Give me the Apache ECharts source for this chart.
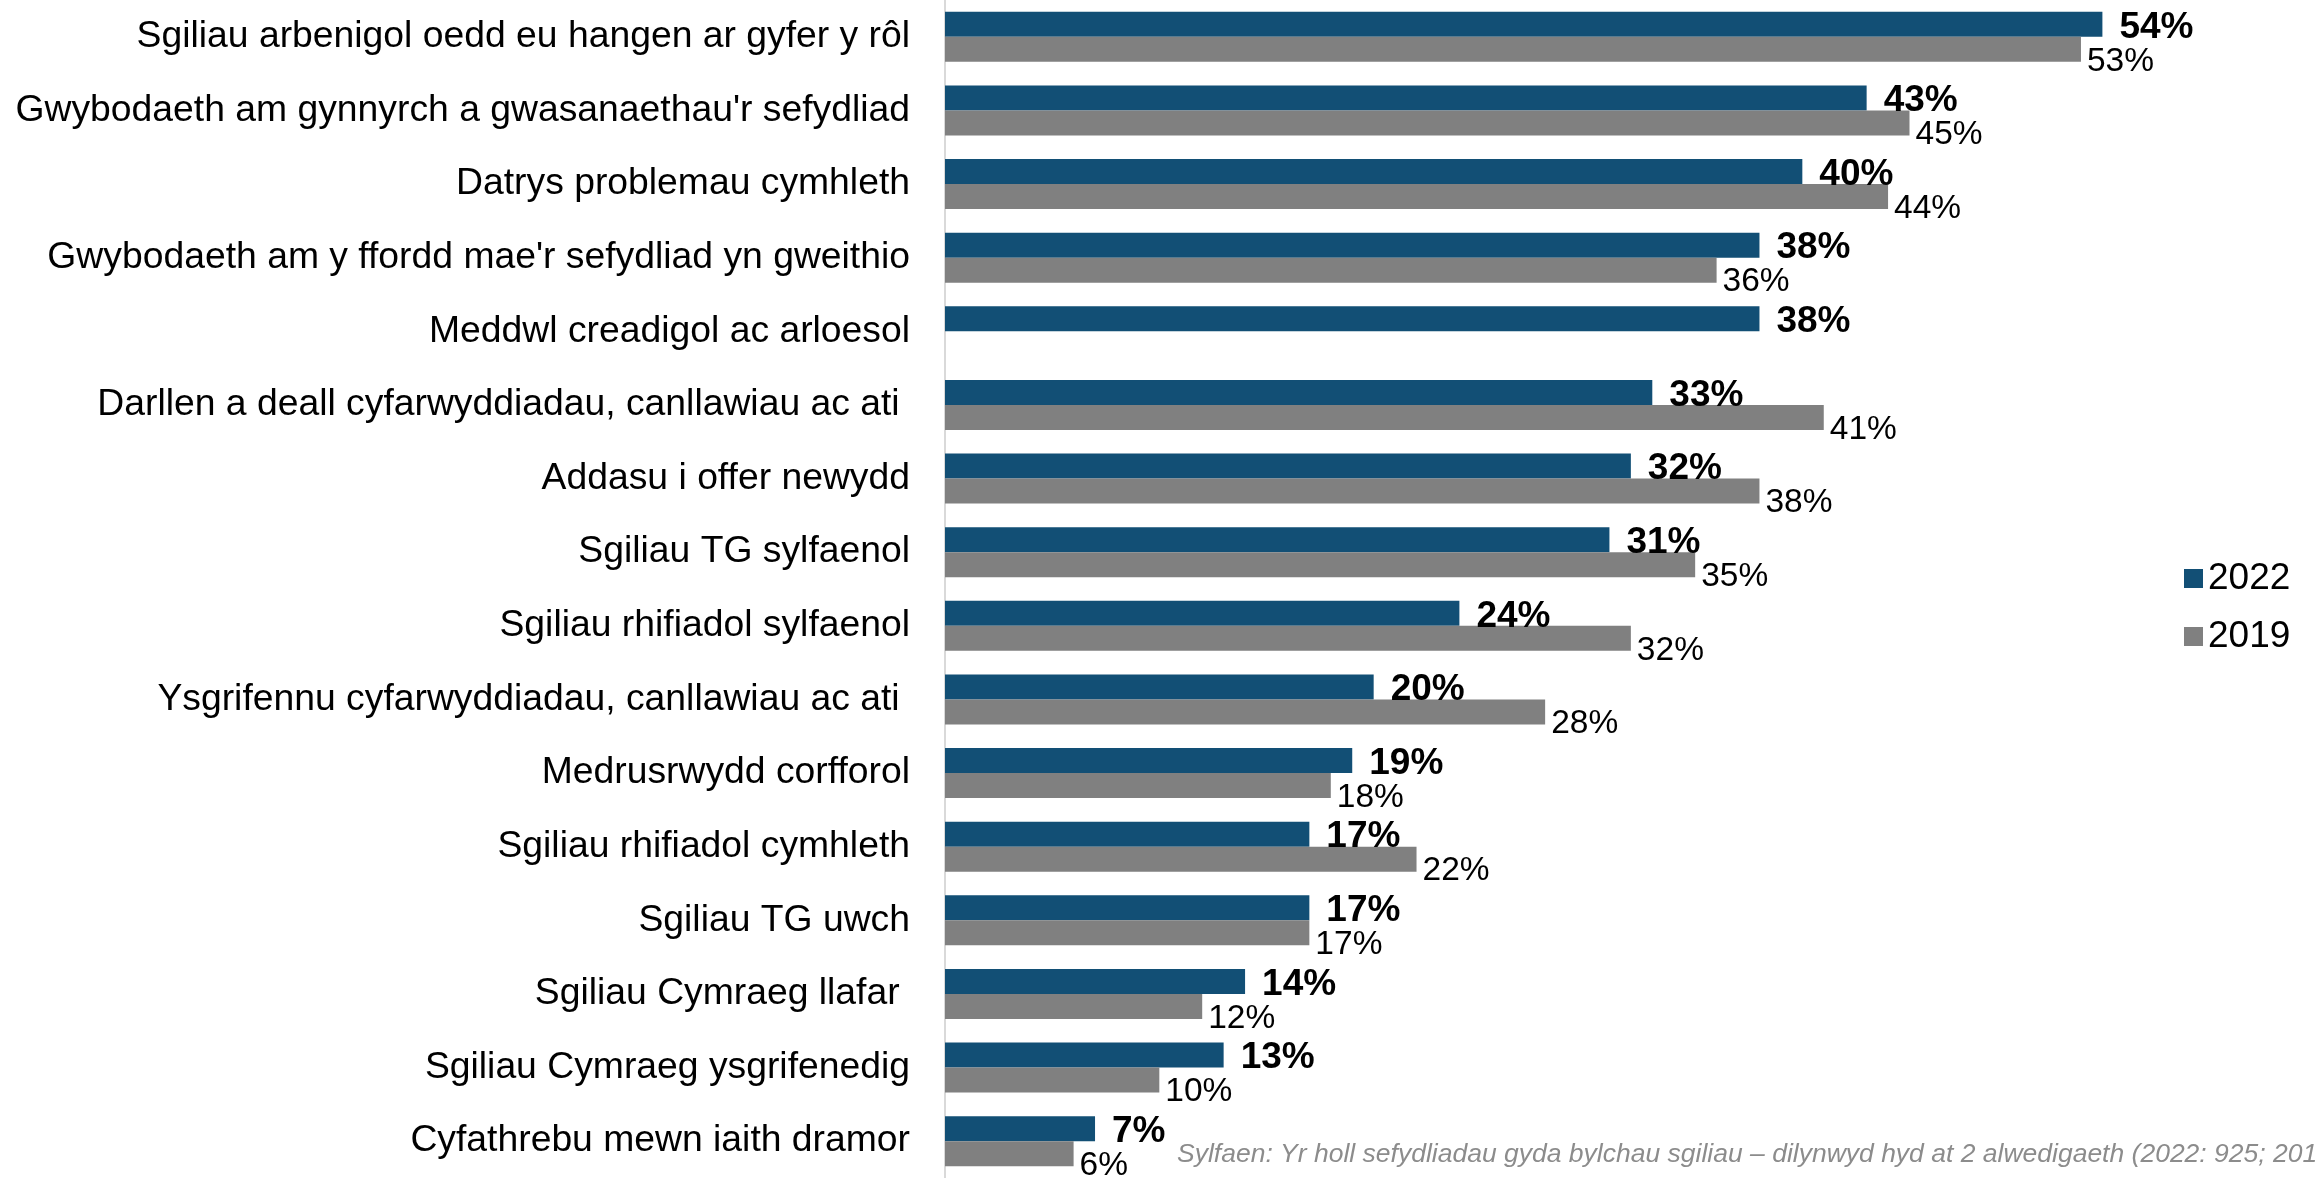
<!DOCTYPE html>
<html lang="cy">
<head>
<meta charset="utf-8">
<title>Bylchau sgiliau</title>
<script src="https://cdn.jsdelivr.net/npm/echarts@6/dist/echarts.min.js"></script>
<style>
  html, body { margin: 0; padding: 0; background: #fff; }
  #container { width: 2315px; height: 1178px; }
</style>
</head>
<body>
<div id="container"></div>
<script>
// categories, top to bottom
var categories = [
  'Sgiliau arbenigol oedd eu hangen ar gyfer y rôl',
  "Gwybodaeth am gynnyrch a gwasanaethau'r sefydliad",
  'Datrys problemau cymhleth',
  "Gwybodaeth am y ffordd mae'r sefydliad yn gweithio",
  'Meddwl creadigol ac arloesol',
  'Darllen a deall cyfarwyddiadau, canllawiau ac ati ',
  'Addasu i offer newydd',
  'Sgiliau TG sylfaenol',
  'Sgiliau rhifiadol sylfaenol',
  'Ysgrifennu cyfarwyddiadau, canllawiau ac ati ',
  'Medrusrwydd corfforol',
  'Sgiliau rhifiadol cymhleth',
  'Sgiliau TG uwch',
  'Sgiliau Cymraeg llafar ',
  'Sgiliau Cymraeg ysgrifenedig',
  'Cyfathrebu mewn iaith dramor'
];
var values2022 = [54, 43, 40, 38, 38, 33, 32, 31, 24, 20, 19, 17, 17, 14, 13, 7];
var values2019 = [53, 45, 44, 36, null, 41, 38, 35, 32, 28, 18, 22, 17, 12, 10, 6];
var seriesNames = ['2022', '2019'];
var sourceNote = 'Sylfaen: Yr holl sefydliadau gyda bylchau sgiliau – dilynwyd hyd at 2 alwedigaeth (2022: 925; 201';

var FONT = "'Liberation Sans', Arial, sans-serif";
var myChart = echarts.init(document.getElementById('container'));

var option = {
  animation: false,
  textStyle: { fontFamily: FONT },
  grid: { left: 945, top: -4, width: 1286, height: 1190, containLabel: false },
  legend: {
    data: seriesNames,
    orient: 'vertical',
    left: 2179,
    top: 555,
    itemGap: 21,
    itemWidth: 19,
    itemHeight: 19,
    icon: 'rect',
    textStyle: { fontSize: 37, color: '#000', fontFamily: FONT }
  },
  xAxis: {
    type: 'value',
    min: 0,
    max: 60,
    show: false
  },
  yAxis: {
    type: 'category',
    data: categories,
    inverse: true,
    axisLine: { show: true, lineStyle: { color: '#d9d9d9', width: 2 } },
    axisTick: { show: false },
    axisLabel: { margin: 35, fontSize: 37.3, color: '#000', fontFamily: FONT }
  },
  series: [
    {
      name: seriesNames[0],
      type: 'bar',
      data: values2022,
      barWidth: 25,
      barGap: '0%',
      itemStyle: { color: '#124f75' },
      label: {
        show: true,
        position: 'right',
        distance: 17,
        offset: [0, 3],
        formatter: '{c}%',
        fontSize: 37,
        fontWeight: 'bold',
        color: '#000',
        fontFamily: FONT
      }
    },
    {
      name: seriesNames[1],
      type: 'bar',
      data: values2019,
      barWidth: 25,
      itemStyle: { color: '#808080' },
      label: {
        show: true,
        position: 'right',
        distance: 6,
        offset: [0, 12],
        formatter: '{c}%',
        fontSize: 33.5,
        color: '#000',
        fontFamily: FONT
      }
    }
  ],
  graphic: [
    {
      type: 'text',
      left: 1177,
      top: 1141,
      style: {
        text: sourceNote,
        font: 'italic 26.5px ' + FONT,
        fill: '#8c8c8c'
      }
    }
  ]
};
myChart.setOption(option);
</script>
</body>
</html>
